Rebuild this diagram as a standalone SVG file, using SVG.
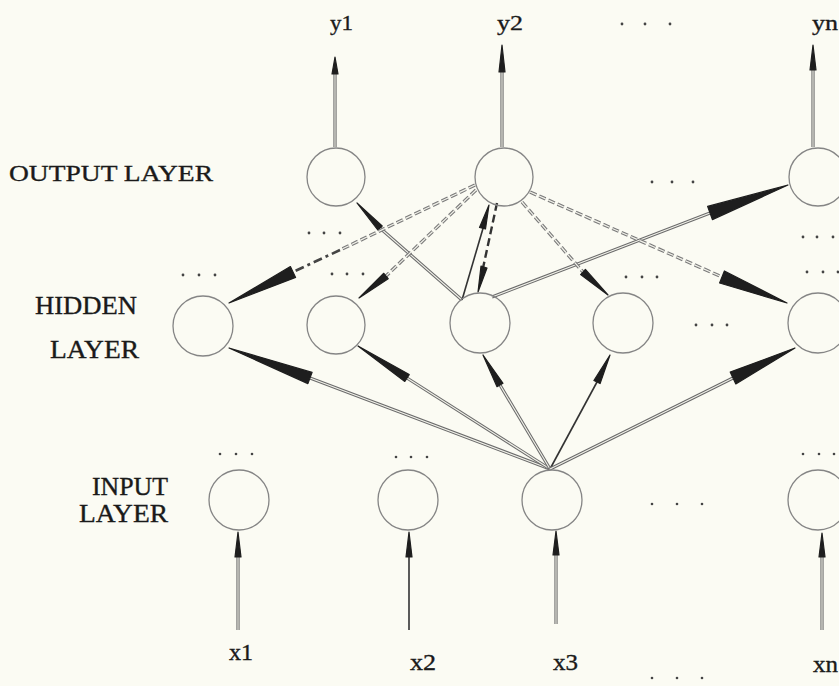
<svg xmlns="http://www.w3.org/2000/svg" width="839" height="686" viewBox="0 0 839 686">
<style>
.bg{fill:#fbfbf3}
.node{fill:none;stroke:#858585;stroke-width:1.3}
.lbl{font-family:"Liberation Serif","Times New Roman",serif;fill:#1a1a1a;stroke:#1a1a1a;stroke-width:0.35}
.dot{fill:#444}
.o{stroke:#6a6a6a;stroke-width:3.2;fill:none}
.i{stroke:#f2f2ea;stroke-width:1.1;fill:none}
.od{stroke:#7a7a7a;stroke-width:3.4;fill:none;stroke-dasharray:7 3}
.id{stroke:#f2f2ea;stroke-width:1.2;fill:none;stroke-dasharray:7 3}
.solid{stroke:#333;stroke-width:1.6;fill:none}
.dash{stroke:#333;stroke-width:2.4;fill:none;stroke-dasharray:8 4}
.dashdot{stroke:#444;stroke-width:2.6;fill:none;stroke-dasharray:9 4 3 4}
.w{fill:#1e1e1e;stroke:#1e1e1e;stroke-width:1.2;stroke-linejoin:round}
</style>
<rect class="bg" x="0" y="0" width="839" height="686"/>

<g id="labels">
<text class="lbl" x="9" y="181" font-size="24" textLength="204" lengthAdjust="spacingAndGlyphs">OUTPUT LAYER</text>
<text class="lbl" x="35" y="314" font-size="25" textLength="102" lengthAdjust="spacingAndGlyphs">HIDDEN</text>
<text class="lbl" x="50" y="358" font-size="25" textLength="89" lengthAdjust="spacingAndGlyphs">LAYER</text>
<text class="lbl" x="92" y="495" font-size="25" textLength="76" lengthAdjust="spacingAndGlyphs">INPUT</text>
<text class="lbl" x="79" y="522" font-size="25" textLength="89" lengthAdjust="spacingAndGlyphs">LAYER</text>
<text class="lbl" x="330" y="30" font-size="22" textLength="23" lengthAdjust="spacingAndGlyphs">y1</text>
<text class="lbl" x="497" y="30" font-size="22" textLength="26" lengthAdjust="spacingAndGlyphs">y2</text>
<text class="lbl" x="812" y="30" font-size="22" textLength="26" lengthAdjust="spacingAndGlyphs">yn</text>
<text class="lbl" x="229" y="660" font-size="23" textLength="24" lengthAdjust="spacingAndGlyphs">x1</text>
<text class="lbl" x="410" y="670" font-size="23" textLength="26" lengthAdjust="spacingAndGlyphs">x2</text>
<text class="lbl" x="553" y="670" font-size="23" textLength="25" lengthAdjust="spacingAndGlyphs">x3</text>
<text class="lbl" x="813" y="672" font-size="23" textLength="25" lengthAdjust="spacingAndGlyphs">xn</text>
</g>

<g id="dots">
<circle class="dot" cx="622" cy="24" r="1.4"/><circle class="dot" cx="645" cy="24" r="1.4"/><circle class="dot" cx="670" cy="24" r="1.4"/>
<circle class="dot" cx="652" cy="182" r="1.4"/><circle class="dot" cx="672" cy="182" r="1.4"/><circle class="dot" cx="693" cy="182" r="1.4"/>
<circle class="dot" cx="309" cy="233" r="1.4"/><circle class="dot" cx="324" cy="233" r="1.4"/><circle class="dot" cx="340" cy="233" r="1.4"/>
<circle class="dot" cx="803" cy="237" r="1.4"/><circle class="dot" cx="817" cy="237" r="1.4"/><circle class="dot" cx="833" cy="237" r="1.4"/>
<circle class="dot" cx="183" cy="275" r="1.4"/><circle class="dot" cx="199" cy="275" r="1.4"/><circle class="dot" cx="215" cy="275" r="1.4"/>
<circle class="dot" cx="332" cy="274" r="1.4"/><circle class="dot" cx="347" cy="274" r="1.4"/><circle class="dot" cx="363" cy="274" r="1.4"/>
<circle class="dot" cx="626" cy="277" r="1.4"/><circle class="dot" cx="642" cy="277" r="1.4"/><circle class="dot" cx="657" cy="277" r="1.4"/>
<circle class="dot" cx="807" cy="272" r="1.4"/><circle class="dot" cx="823" cy="272" r="1.4"/><circle class="dot" cx="838" cy="272" r="1.4"/>
<circle class="dot" cx="696" cy="325" r="1.4"/><circle class="dot" cx="712" cy="325" r="1.4"/><circle class="dot" cx="727" cy="325" r="1.4"/>
<circle class="dot" cx="220" cy="454" r="1.3"/><circle class="dot" cx="236" cy="454" r="1.3"/><circle class="dot" cx="252" cy="454" r="1.3"/>
<circle class="dot" cx="396" cy="457" r="1.3"/><circle class="dot" cx="411" cy="457" r="1.3"/><circle class="dot" cx="427" cy="457" r="1.3"/>
<circle class="dot" cx="803" cy="454" r="1.3"/><circle class="dot" cx="819" cy="454" r="1.3"/><circle class="dot" cx="834" cy="454" r="1.3"/>
<circle class="dot" cx="652" cy="504" r="1.3"/><circle class="dot" cx="677" cy="504" r="1.3"/><circle class="dot" cx="702" cy="504" r="1.3"/>
<circle class="dot" cx="652" cy="678" r="1.3"/><circle class="dot" cx="677" cy="678" r="1.3"/><circle class="dot" cx="702" cy="678" r="1.3"/>
</g>

<g id="connectors">
<!-- outputs -->
<line class="o" x1="335" y1="147" x2="335" y2="70"/><line class="i" x1="335" y1="147" x2="335" y2="70"/>
<polygon class="w" points="335,57 332,74 338,74"/>
<line class="o" x1="502" y1="147" x2="502" y2="70"/><line class="i" x1="502" y1="147" x2="502" y2="70"/>
<polygon class="w" points="502,45 499,72 505,72"/>
<line class="o" x1="813" y1="147" x2="813" y2="68"/><line class="i" x1="813" y1="147" x2="813" y2="68"/>
<polygon class="w" points="813,45 810,70 816,70"/>
<!-- inputs -->
<line class="o" x1="238" y1="630" x2="238" y2="552"/><line class="i" x1="238" y1="630" x2="238" y2="552"/>
<polygon class="w" points="238,532 235,557 241,557"/>
<line class="solid" x1="409" y1="630" x2="409" y2="552"/>
<polygon class="w" points="409,532 406,557 412,557"/>
<line class="o" x1="556" y1="624" x2="556" y2="552"/><line class="i" x1="556" y1="624" x2="556" y2="552"/>
<polygon class="w" points="556,531 553,555 559,555"/>
<line class="o" x1="822" y1="630" x2="822" y2="552"/><line class="i" x1="822" y1="630" x2="822" y2="552"/>
<polygon class="w" points="822,533 819,557 825,557"/>
<!-- x3 to hidden -->
<line class="o" x1="550" y1="469" x2="310" y2="378"/><line class="i" x1="550" y1="469" x2="310" y2="378"/>
<polygon class="w" points="229,348 307.9,383.6 312.1,372.4"/>
<line class="o" x1="550" y1="469" x2="407" y2="378"/><line class="i" x1="550" y1="469" x2="407" y2="378"/>
<polygon class="w" points="358,346 404.8,381.4 409.2,374.6"/>
<line class="o" x1="550" y1="469" x2="500" y2="385"/><line class="i" x1="550" y1="469" x2="500" y2="385"/>
<polygon class="w" points="483,355 497,386.7 503,383.3"/>
<line class="solid" x1="550" y1="469" x2="597" y2="382"/>
<polygon class="w" points="610,355 593.9,380.5 600.1,383.5"/>
<line class="o" x1="550" y1="469" x2="733" y2="378"/><line class="i" x1="550" y1="469" x2="733" y2="378"/>
<polygon class="w" points="795,348 730.2,372.1 735.8,383.9"/>
<!-- hidden3 to outputs -->
<line class="o" x1="462" y1="300" x2="380" y2="228"/><line class="i" x1="462" y1="300" x2="380" y2="228"/>
<polygon class="w" points="357,203 377.8,230 382.2,226"/>
<line class="solid" x1="462" y1="300" x2="484" y2="225"/>
<polygon class="w" points="489,205 479.5,227.5 485.5,229"/>
<line class="o" x1="492" y1="297" x2="710" y2="213"/><line class="i" x1="492" y1="297" x2="710" y2="213"/>
<polygon class="w" points="788,185 707.6,206.4 712.4,219.6"/>
<!-- y2 back to hidden -->
<line class="dash" x1="497" y1="203" x2="483" y2="268"/>
<polygon class="w" points="478,292 481,266 487,268"/>
<line class="od" x1="475" y1="185" x2="340" y2="250"/><line class="id" x1="475" y1="185" x2="340" y2="250"/>
<line class="dashdot" x1="340" y1="250" x2="293" y2="272"/>
<polygon class="w" points="229,303 295.6,277.4 290.4,266.6"/>
<line class="od" x1="476" y1="190" x2="386" y2="276"/><line class="id" x1="476" y1="190" x2="386" y2="276"/>
<polygon class="w" points="359,298 388.2,278.7 383.8,273.3"/>
<line class="od" x1="522" y1="202" x2="583" y2="272"/><line class="id" x1="522" y1="202" x2="583" y2="272"/>
<polygon class="w" points="608,295 585.4,269.4 580.6,274.6"/>
<line class="od" x1="530" y1="192" x2="722" y2="277"/><line class="id" x1="530" y1="192" x2="722" y2="277"/>
<polygon class="w" points="787,303 724.4,271 719.6,283"/>
</g>

<g id="out1"><circle class="node" cx="336" cy="177" r="29"/></g>
<g id="out2"><circle class="node" cx="504" cy="177" r="29"/></g>
<g id="outn"><circle class="node" cx="818" cy="177" r="29"/></g>
<g id="hid1"><circle class="node" cx="203" cy="326" r="30"/></g>
<g id="hid2"><circle class="node" cx="336" cy="325" r="29"/></g>
<g id="hid3"><circle class="node" cx="480" cy="323" r="30"/></g>
<g id="hid4"><circle class="node" cx="623" cy="323" r="30"/></g>
<g id="hidn"><circle class="node" cx="818" cy="323" r="30"/></g>
<g id="in1"><circle class="node" cx="239" cy="500" r="30"/></g>
<g id="in2"><circle class="node" cx="408" cy="500" r="30"/></g>
<g id="in3"><circle class="node" cx="552" cy="500" r="30"/></g>
<g id="inn"><circle class="node" cx="818" cy="500" r="30"/></g>
</svg>
